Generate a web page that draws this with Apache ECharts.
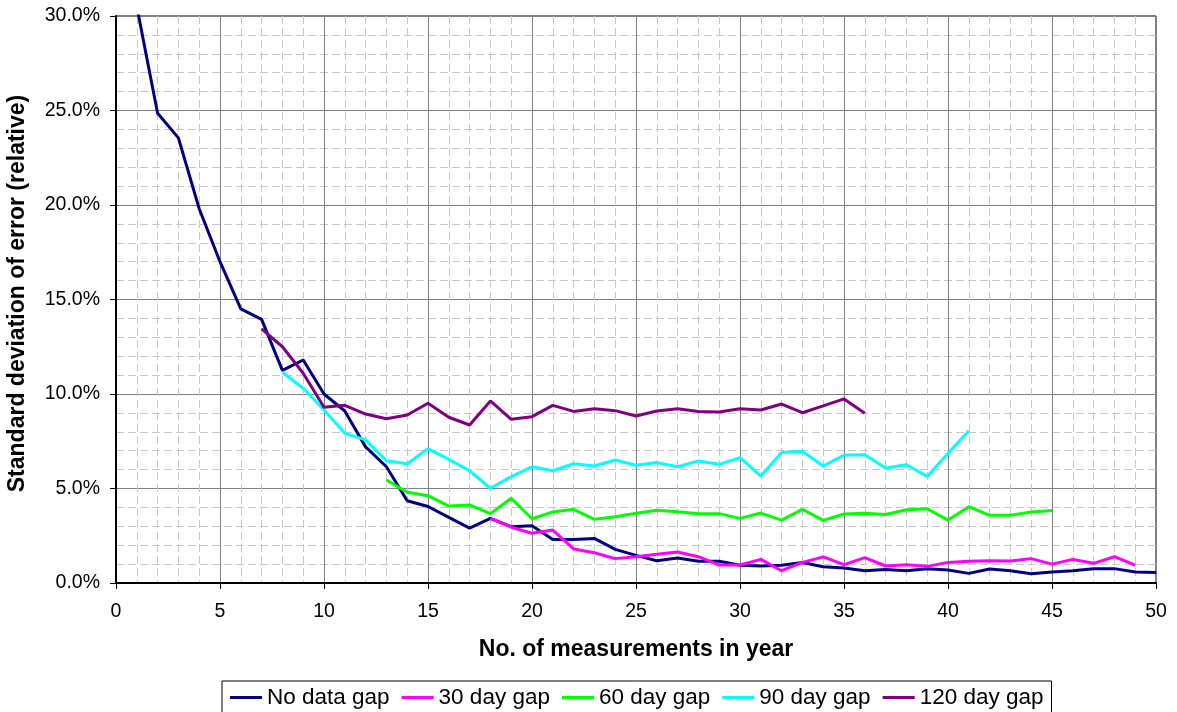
<!DOCTYPE html>
<html>
<head>
<meta charset="utf-8">
<script src="https://cdn.jsdelivr.net/npm/echarts@6/dist/echarts.min.js"></script>
<style>
html,body{margin:0;padding:0;background:#fff;}
#chart{width:1177px;height:712px;}
</style>
</head>
<body>
<div id="chart"></div>
<script>
// Series names
const seriesNames = ['No data gap', '30 day gap', '60 day gap', '90 day gap', '120 day gap'];
// First x (no. of measurements) for each series
const startX = [1, 18, 13, 8, 7];
// Values (%)
const noGap = [30.5, 24.85, 23.55, 19.8, 17.0, 14.5, 13.95, 11.25, 11.8, 10.0,
  9.1, 7.2, 6.15, 4.35, 4.05, 3.47, 2.9, 3.42, 2.98, 3.03,
  2.3, 2.3, 2.36, 1.78, 1.46, 1.18, 1.32, 1.15, 1.15, 0.94,
  0.9, 0.94, 1.08, 0.86, 0.79, 0.65, 0.72, 0.65, 0.76, 0.69,
  0.51, 0.74, 0.65, 0.49, 0.58, 0.65, 0.76, 0.76, 0.58, 0.55];
const gap30 = [3.42, 2.95, 2.63, 2.8, 1.8, 1.6, 1.29, 1.39, 1.52, 1.64,
  1.39, 0.95, 0.95, 1.25, 0.65, 1.09, 1.38, 0.97, 1.34, 0.9,
  0.97, 0.88, 1.09, 1.15, 1.18, 1.16, 1.29, 1.0, 1.25, 1.04, 1.39, 0.94];
const gap60 = [5.45, 4.8, 4.62, 4.07, 4.13, 3.67, 4.48, 3.4, 3.76, 3.9,
  3.37, 3.51, 3.69, 3.85, 3.77, 3.67, 3.67, 3.42, 3.7, 3.33,
  3.9, 3.31, 3.65, 3.69, 3.62, 3.88, 3.93, 3.33, 4.04, 3.58, 3.58, 3.76, 3.83];
const gap90 = [11.15, 10.3, 9.15, 7.92, 7.57, 6.47, 6.31, 7.11, 6.54, 5.94,
  5.01, 5.63, 6.15, 5.94, 6.31, 6.19, 6.51, 6.23, 6.37, 6.15,
  6.46, 6.28, 6.63, 5.66, 6.9, 6.97, 6.19, 6.77, 6.79, 6.08, 6.26, 5.64, 6.86, 8.06];
const gap120 = [13.44, 12.5, 11.1, 9.3, 9.4, 8.94, 8.69, 8.89, 9.51, 8.77,
  8.36, 9.63, 8.66, 8.8, 9.4, 9.08, 9.22, 9.12, 8.84, 9.1,
  9.22, 9.08, 9.05, 9.22, 9.15, 9.47, 9.01, 9.37, 9.74, 8.98];
const colors = ['#000080', '#FF00FF', '#00FF00', '#00FFFF', '#800080'];

const allValues = [noGap, gap30, gap60, gap90, gap120];
const FONT = "Arial, 'Liberation Sans', sans-serif";

const chart = echarts.init(document.getElementById('chart'), null, {renderer: 'canvas'});
const series = allValues.map((vals, i) => ({
  name: seriesNames[i],
  type: 'line',
  data: vals.map((v, k) => [startX[i] + k, v]),
  showSymbol: false,
  symbol: 'none',
  clip: true,
  lineStyle: {color: colors[i], width: 3},
  itemStyle: {color: colors[i]},
  emphasis: {disabled: true},
  animation: false
}));

chart.setOption({
  animation: false,
  color: colors,
  grid: {left: 116, right: 21, top: 16, bottom: 129, show: true, borderColor: '#000', borderWidth: 1,
    backgroundColor: 'transparent', containLabel: false, outerBoundsMode: 'none'},
  legend: {
    left: 222, top: 681,
    data: seriesNames,
    icon: 'rect',
    itemWidth: 32, itemHeight: 3,
    itemGap: 12,
    padding: [5, 8, 8, 8],
    borderColor: '#000', borderWidth: 1,
    textStyle: {fontFamily: FONT, fontSize: 22.5, color: '#000'}
  },
  xAxis: {
    type: 'value', min: 0, max: 50, interval: 5,
    name: 'No. of measurements in year',
    nameLocation: 'middle', nameGap: 55,
    nameTextStyle: {fontFamily: FONT, fontSize: 23, fontWeight: 'bold', color: '#000'},
    axisLine: {show: true, onZero: false, lineStyle: {color: '#000', width: 2}},
    axisTick: {show: true, length: 6, inside: false, lineStyle: {color: '#000'}},
    axisLabel: {fontFamily: FONT, fontSize: 19.5, color: '#000', margin: 19},
    splitLine: {show: true, lineStyle: {color: '#808080', width: 1}},
    minorTick: {show: false, splitNumber: 5},
    minorSplitLine: {show: true, lineStyle: {color: '#c8c8c8', width: 1, type: [8, 4]}}
  },
  yAxis: {
    type: 'value', min: 0, max: 30, interval: 5,
    name: 'Standard deviation of error (relative)',
    nameLocation: 'middle', nameGap: 87,
    nameTextStyle: {fontFamily: FONT, fontSize: 23, fontWeight: 'bold', color: '#000', padding: [0, 0, 0, 12]},
    axisLine: {show: true, lineStyle: {color: '#000', width: 2}},
    axisTick: {show: true, length: 6, inside: false, lineStyle: {color: '#000'}},
    axisLabel: {fontFamily: FONT, fontSize: 19.5, color: '#000', margin: 16,
      formatter: v => v.toFixed(1) + '%'},
    splitLine: {show: true, lineStyle: {color: '#808080', width: 1}},
    minorTick: {show: false, splitNumber: 5},
    minorSplitLine: {show: true, lineStyle: {color: '#c8c8c8', width: 1, type: [8, 4]}}
  },
  series: series
});
</script>
</body>
</html>
